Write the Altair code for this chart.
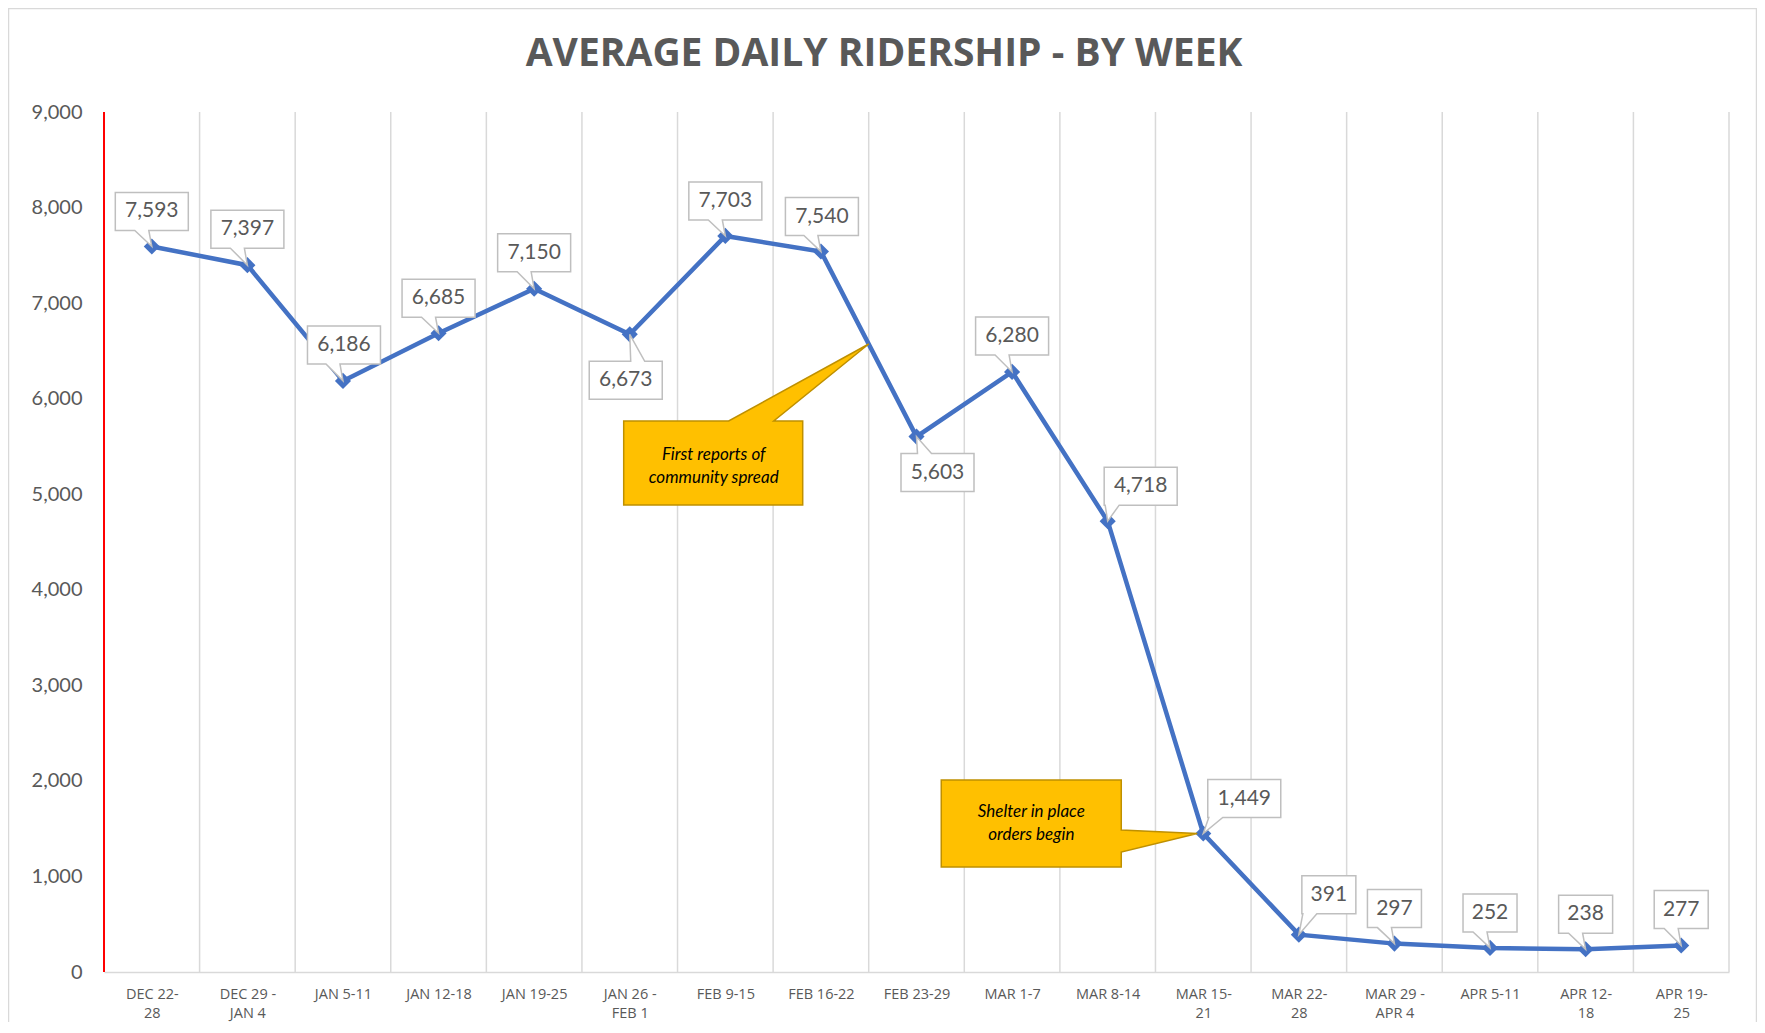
import json
import altair as alt
import pandas as pd

# ---------------- data ----------------
weeks = ["DEC 22-\n28", "DEC 29 -\nJAN 4", "JAN 5-11", "JAN 12-18", "JAN 19-25",
         "JAN 26 -\nFEB 1", "FEB 9-15", "FEB 16-22", "FEB 23-29", "MAR 1-7",
         "MAR 8-14", "MAR 15-\n21", "MAR 22-\n28", "MAR 29 -\nAPR 4", "APR 5-11",
         "APR 12-\n18", "APR 19-\n25"]
ridership = [7593, 7397, 6186, 6685, 7150, 6673, 7703, 7540, 5603, 6280,
             4718, 1449, 391, 297, 252, 238, 277]
y_ticks = [0, 1000, 2000, 3000, 4000, 5000, 6000, 7000, 8000, 9000]
title_text = "AVERAGE DAILY RIDERSHIP - BY WEEK"

# label placement (pixel offsets of the label box centre from its point)
label_dx = [0, 0, 1, 0, 0, -4, 0, 1, 21, 0, 33, 41, 30, 0, 0, 0, 0]
label_dy = [-35, -36, -36, -35, -36, 46, -35, -35, 36, -36, -35, -35, -40, -35, -35, -35, -36]

callout1_text = ["First reports of", "community spread"]
callout2_text = ["Shelter in place", "orders begin"]

# ---------------- layout ----------------
W, H = 1625, 860
N = len(weeks)
YMAX = 9000
PX_X = W / N
U_Y = YMAX / H
BOX_H = 38
GRID = "#d9d9d9"
TXT = "#595959"
BLUE = "#4472C4"


def box_path(dx, dy, w, h=BOX_H):
    L, R = dx - w / 2, dx + w / 2
    T, B = dy - h / 2, dy + h / 2
    if dy < 0:
        bx = min(max(-10, L + 8), R - 8)
        return f"M{L},{T}H{R}V{B}H{bx + 7}L0,0L{bx - 7},{B}H{L}Z"
    bx = min(max(8, L + 8), R - 8)
    return f"M{L},{T}H{bx - 7}L0,0L{bx + 7},{T}H{R}V{B}H{L}Z"


labels = [f"{v:,}" for v in ridership]
xs = [i + 0.5 for i in range(N)]
df = pd.DataFrame({
    "week": weeks,
    "x": xs,
    "riders": ridership,
    "label": labels,
    "path": [box_path(dx, dy, 73 if len(l) > 3 else 54)
             for dx, dy, l in zip(label_dx, label_dy, labels)],
    "tx": [x + dx / PX_X for x, dx in zip(xs, label_dx)],
    "ty": [v - dy * U_Y for v, dy in zip(ridership, label_dy)],
})

bounds = pd.DataFrame({"b": list(range(N + 1))})
one = pd.DataFrame({"a": [0]})

label_js = "split(" + json.dumps(weeks) + "[floor(datum.value)], '\\n')"

X_AXIS = alt.Axis(values=xs, labelExpr=label_js, title=None, ticks=False,
                  grid=False, domainColor=GRID, domainWidth=1.5,
                  labelFont="Open Sans", labelFontSize=14.5, labelColor=TXT,
                  labelPadding=15, labelLineHeight=19, labelOverlap=False,
                  labelFlush=False, labelBaseline="top")
Y_AXIS = alt.Axis(values=y_ticks, labelExpr="format(datum.value, ',')", title=None, ticks=False,
                  domain=False, grid=False, labelFont="Lato", labelFontSize=20,
                  labelColor=TXT, labelPadding=22)
X_SCALE = alt.Scale(domain=[0, N], nice=False, zero=False)
Y_SCALE = alt.Scale(domain=[0, YMAX], nice=False)


def xe(field):
    return alt.X(f"{field}:Q", scale=X_SCALE, axis=X_AXIS)


def ye(field):
    return alt.Y(f"{field}:Q", scale=Y_SCALE, axis=Y_AXIS)


border = alt.Chart(one).mark_rect(fill="white", fillOpacity=0, stroke=GRID, strokeWidth=1.5).encode(
    x=alt.value(-95.5), x2=alt.value(W + 27.5), y=alt.value(-103.5), y2=alt.value(H + 90))

title = alt.Chart(one).mark_text(font="Open Sans", fontSize=39, fontWeight="bold", color=TXT,
                                 align="center", baseline="middle", text=title_text).encode(
    x=alt.value(780), y=alt.value(-58))

grid = alt.Chart(bounds).mark_rule(color=GRID, strokeWidth=1.5).encode(
    x=xe("b"), y=alt.value(0), y2=alt.value(H))

red_axis = alt.Chart(one).mark_rule(color="#ff0000", strokeWidth=2).encode(
    x=alt.value(0), y=alt.value(0), y2=alt.value(H))

line = alt.Chart(df).mark_line(color=BLUE, strokeWidth=4.5).encode(x=xe("x"), y=ye("riders"))
pts = alt.Chart(df).mark_point(shape="diamond", filled=True, size=260, color=BLUE,
                               opacity=1).encode(x=xe("x"), y=ye("riders"))

boxes = alt.Chart(df).mark_point(size=4, filled=True, fill="white", stroke="#bfbfbf",
                                 strokeWidth=1.5, opacity=1).encode(
    x=xe("x"), y=ye("riders"), shape=alt.Shape("path:N", scale=None))

texts = alt.Chart(df).mark_text(font="Lato", fontSize=21, color=TXT, align="center",
                                baseline="middle").encode(
    x=xe("tx"), y=ye("ty"), text="label:N")

# yellow callouts anchored on the line
c1 = pd.DataFrame({"x": [8.0], "riders": [6572]})
c2 = pd.DataFrame({"x": [11.5], "riders": [1449]})
c1_path = "M-245,77H-140L0,0L-95,77H-66V161H-245Z"
c2_path = "M-262,-53.5H-82V-3.5L-6,0L-82,18.5V33.5H-262Z"
YEL, YEL_S = "#FFC000", "#BF9000"

call1 = alt.Chart(c1).mark_point(shape=c1_path, size=4, filled=True, fill=YEL, stroke=YEL_S,
                                 strokeWidth=1.5, opacity=1).encode(x=xe("x"), y=ye("riders"))
call1_t = alt.Chart(c1).mark_text(text=callout1_text, font="Lato", fontSize=17, fontStyle="italic",
                                  color="black", align="center", baseline="middle",
                                  lineHeight=23, dx=-155, dy=111).encode(x=xe("x"), y=ye("riders"))
call2 = alt.Chart(c2).mark_point(shape=c2_path, size=4, filled=True, fill=YEL, stroke=YEL_S,
                                 strokeWidth=1.5, opacity=1).encode(x=xe("x"), y=ye("riders"))
call2_t = alt.Chart(c2).mark_text(text=callout2_text, font="Lato", fontSize=17, fontStyle="italic",
                                  color="black", align="center", baseline="middle",
                                  lineHeight=23, dx=-172, dy=-22).encode(x=xe("x"), y=ye("riders"))

chart = alt.layer(border, title, grid, red_axis, line, pts, boxes, texts,
                  call1, call1_t, call2, call2_t).properties(
    width=W, height=H,
    padding={"left": 96, "top": 104, "right": 28, "bottom": 50},
    autosize=alt.AutoSizeParams(type="none"),
    background="white",
).configure_view(stroke=None)

chart.save("out.html", embed_options={"renderer": "svg", "actions": False})
